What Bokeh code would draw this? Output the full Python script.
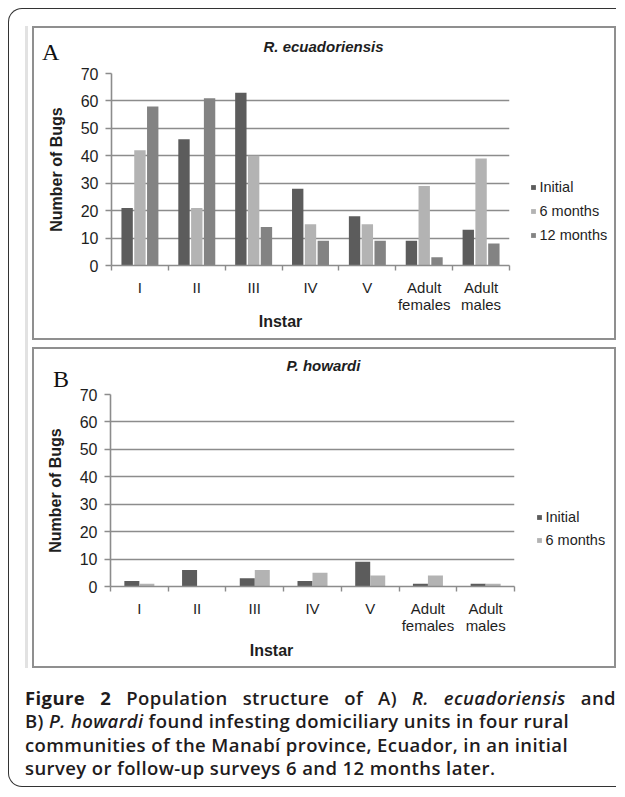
import numpy as np
from bokeh.plotting import figure
from bokeh.models import Range1d, FixedTicker, Legend, LegendItem, Div
from bokeh.layouts import column, row
from bokeh.embed import file_html
from bokeh.resources import INLINE

# ---------------- data ----------------
instars = ["I", "II", "III", "IV", "V", "Adult\nfemales", "Adult\nmales"]
y_ticks = [0, 10, 20, 30, 40, 50, 60, 70]

series_names_a = ["Initial", "6 months", "12 months"]
a_initial = [21, 46, 63, 28, 18, 9, 13]
a_6months = [42, 21, 40, 15, 15, 29, 39]
a_12months = [58, 61, 14, 9, 9, 3, 8]

series_names_b = ["Initial", "6 months"]
b_initial = [2, 6, 3, 2, 9, 1, 1]
b_6months = [1, 0, 6, 5, 4, 4, 1]

title_a = "R. ecuadoriensis"
title_b = "P. howardi"
x_label = "Instar"
y_label = "Number of Bugs"

# ---------------- styles ----------------
C_INITIAL = "#5c5c5c"
C_6M = "#b3b3b3"
C_12M = "#838383"
GRID = "#8c8c8c"
TXT = "#1e1e1e"
FONT = "Liberation Sans"


def header(letter, title, height, letter_left, letter_top, title_top):
    html = (
        f'<div style="position:relative; width:580px; height:{height}px; overflow:visible;">'
        f'<span style="position:absolute; left:{letter_left}px; top:{letter_top}px; '
        f'font-family:\'Liberation Serif\'; font-size:24px; line-height:28px; color:#111111;">{letter}</span>'
        f'<div style="position:absolute; left:0px; top:{title_top}px; width:580px; text-align:center; '
        f'font-family:\'{FONT}\'; font-weight:bold; font-style:italic; font-size:15px; line-height:18px; '
        f'color:{TXT};">{title}</div></div>'
    )
    return Div(text=html, width=580, height=height, margin=0, styles={"overflow": "visible"})


def footer(label, height, center_x, top):
    html = (
        f'<div style="position:relative; width:580px; height:{height}px; overflow:visible;">'
        f'<div style="position:absolute; left:0px; top:{top}px; width:{2 * center_x}px; text-align:center; '
        f'font-family:\'{FONT}\'; font-weight:bold; font-size:16px; line-height:18px; color:{TXT};">{label}</div>'
        f'</div>'
    )
    return Div(text=html, width=580, height=height, margin=0, styles={"overflow": "visible"})


def main_fig(values, colors, offsets, bar_w, width, height, mb_left, mb_top, mb_bottom):
    n = len(instars)
    p = figure(width=width, height=height, x_range=Range1d(0, n), y_range=Range1d(0, 70),
               output_backend="svg", toolbar_location=None, title=None,
               min_border_left=mb_left, min_border_right=5,
               min_border_top=mb_top, min_border_bottom=mb_bottom)
    p.outline_line_color = None
    p.background_fill_color = "white"
    p.border_fill_color = "white"

    p.xgrid.grid_line_color = None
    p.ygrid.grid_line_color = GRID
    p.ygrid.grid_line_width = 1.6

    ya = p.yaxis[0]
    ya.ticker = FixedTicker(ticks=y_ticks)
    ya.axis_line_color = GRID
    ya.axis_line_width = 1.6
    ya.major_tick_line_color = GRID
    ya.major_tick_line_width = 1.6
    ya.major_tick_out = 6
    ya.major_tick_in = 0
    ya.minor_tick_line_color = None
    ya.major_label_text_font = FONT
    ya.major_label_text_font_size = "16px"
    ya.major_label_text_color = TXT
    ya.major_label_standoff = 7
    ya.axis_label = y_label
    ya.axis_label_text_font = FONT
    ya.axis_label_text_font_style = "bold"
    ya.axis_label_text_font_size = "16px"
    ya.axis_label_text_color = TXT
    ya.axis_label_standoff = 13

    xa = p.xaxis[0]
    centers = [i + 0.5 for i in range(n)]
    xa.ticker = FixedTicker(ticks=centers, minor_ticks=list(range(n + 1)))
    xa.major_label_overrides = {c: lab for c, lab in zip(centers, instars)}
    xa.axis_line_color = GRID
    xa.axis_line_width = 1.6
    xa.major_tick_line_color = None
    xa.major_tick_out = 0
    xa.major_tick_in = 0
    xa.minor_tick_line_color = GRID
    xa.minor_tick_line_width = 1.4
    xa.minor_tick_out = 5
    xa.minor_tick_in = 0
    xa.major_label_text_font = FONT
    xa.major_label_text_font_size = "15px"
    xa.major_label_text_line_height = 1.0
    xa.major_label_text_color = TXT
    xa.major_label_standoff = 8

    xs = np.arange(n) + 0.5
    for vals, col, off in zip(values, colors, offsets):
        p.vbar(x=xs + off, top=vals, bottom=0, width=bar_w, fill_color=col, line_color=None)
    return p


def legend_fig(names, values, colors, width, height, vx, vy, label_h):
    # legend lives in its own small figure to the right of the plot area;
    # its renderers carry the same series but with zero bar width (nothing visible)
    n = len(instars)
    p = figure(width=width, height=height, x_range=Range1d(0, n), y_range=Range1d(0, 70),
               output_backend="svg", toolbar_location=None, title=None,
               x_axis_location=None, y_axis_location=None, min_border=0)
    p.outline_line_color = None
    p.grid.grid_line_color = None
    p.background_fill_color = "white"
    p.border_fill_color = "white"
    xs = np.arange(n) + 0.5
    items = []
    for name, vals, col in zip(names, values, colors):
        r = p.vbar(x=xs, top=vals, bottom=0, width=0, fill_color=col, line_color=None)
        items.append(LegendItem(label=name, renderers=[r]))
    leg = Legend(items=items, location=(vx, vy), glyph_width=6, glyph_height=6,
                 label_standoff=4, spacing=5, padding=0, margin=0,
                 label_height=label_h, border_line_color=None, background_fill_alpha=0,
                 label_text_font=FONT, label_text_font_size="14.5px",
                 label_text_color=TXT)
    p.add_layout(leg)
    return p


PANEL_STYLE = {"border": "2px solid #8f8f8f", "background": "white"}

# Panel A
vals_a = [a_initial, a_6months, a_12months]
cols_a = [C_INITIAL, C_6M, C_12M]
hA = header("A", title_a, 35, 8.5, 10, 10)
mA = main_fig(vals_a, cols_a, [-0.225, 0.0, 0.225], 0.2, 480, 252, 77, 10, 50)
lA = legend_fig(series_names_a, vals_a, cols_a, 100, 252, 16, 21, 19)
fA = footer(x_label, 23, 247, -2)
panelA = column(hA, row(mA, lA), fA, styles=PANEL_STYLE)

# Panel B
vals_b = [b_initial, b_6months]
cols_b = [C_INITIAL, C_6M]
hB = header("B", title_b, 38, 19.5, 16, 8)
mB = main_fig(vals_b, cols_b, [-0.13, 0.13], 0.26, 485, 251, 76, 7, 52)
lB = legend_fig(series_names_b, vals_b, cols_b, 95, 251, 17, 37, 18)
fB = footer(x_label, 28, 238, 3.5)
panelB = column(hB, row(mB, lB), fB, styles=PANEL_STYLE)

caption_html = (
    '<div style="font-family:\'Open Sans\'; font-size:18.5px; letter-spacing:0.4px; font-weight:600;'
    ' line-height:23.3px; color:#1f1c1d; width:591px;">'
    '<div style="text-align:justify; text-align-last:justify;"><span style="font-weight:700;">Figure 2</span>'
    ' Population structure of A) <i>R. ecuadoriensis</i> and</div>'
    '<div>B) <i>P. howardi</i> found infesting domiciliary units in four rural</div>'
    '<div>communities of the Manab\u00ed province, Ecuador, in an initial</div>'
    '<div>survey or follow-up surveys 6 and 12 months later.</div>'
    '</div>'
)
caption = Div(text=caption_html, width=591, height=94, margin=0)

inner = column(panelA, panelB, spacing=7,
               styles={"padding-left": "6.5px",
                       "background": "linear-gradient(to right, #e2e2e2 0px, #e2e2e2 3px, transparent 3px)"})
outer = column(inner, caption, spacing=18,
               styles={"border": "1.5px solid #333333", "border-right": "none",
                       "border-radius": "14px 0 0 14px",
                       "padding": "17px 0 6px 16px", "background": "white"})
page = column(outer, styles={"padding": "8px 0 0 8px"})

open("out.html", "w").write(file_html(page, INLINE))
